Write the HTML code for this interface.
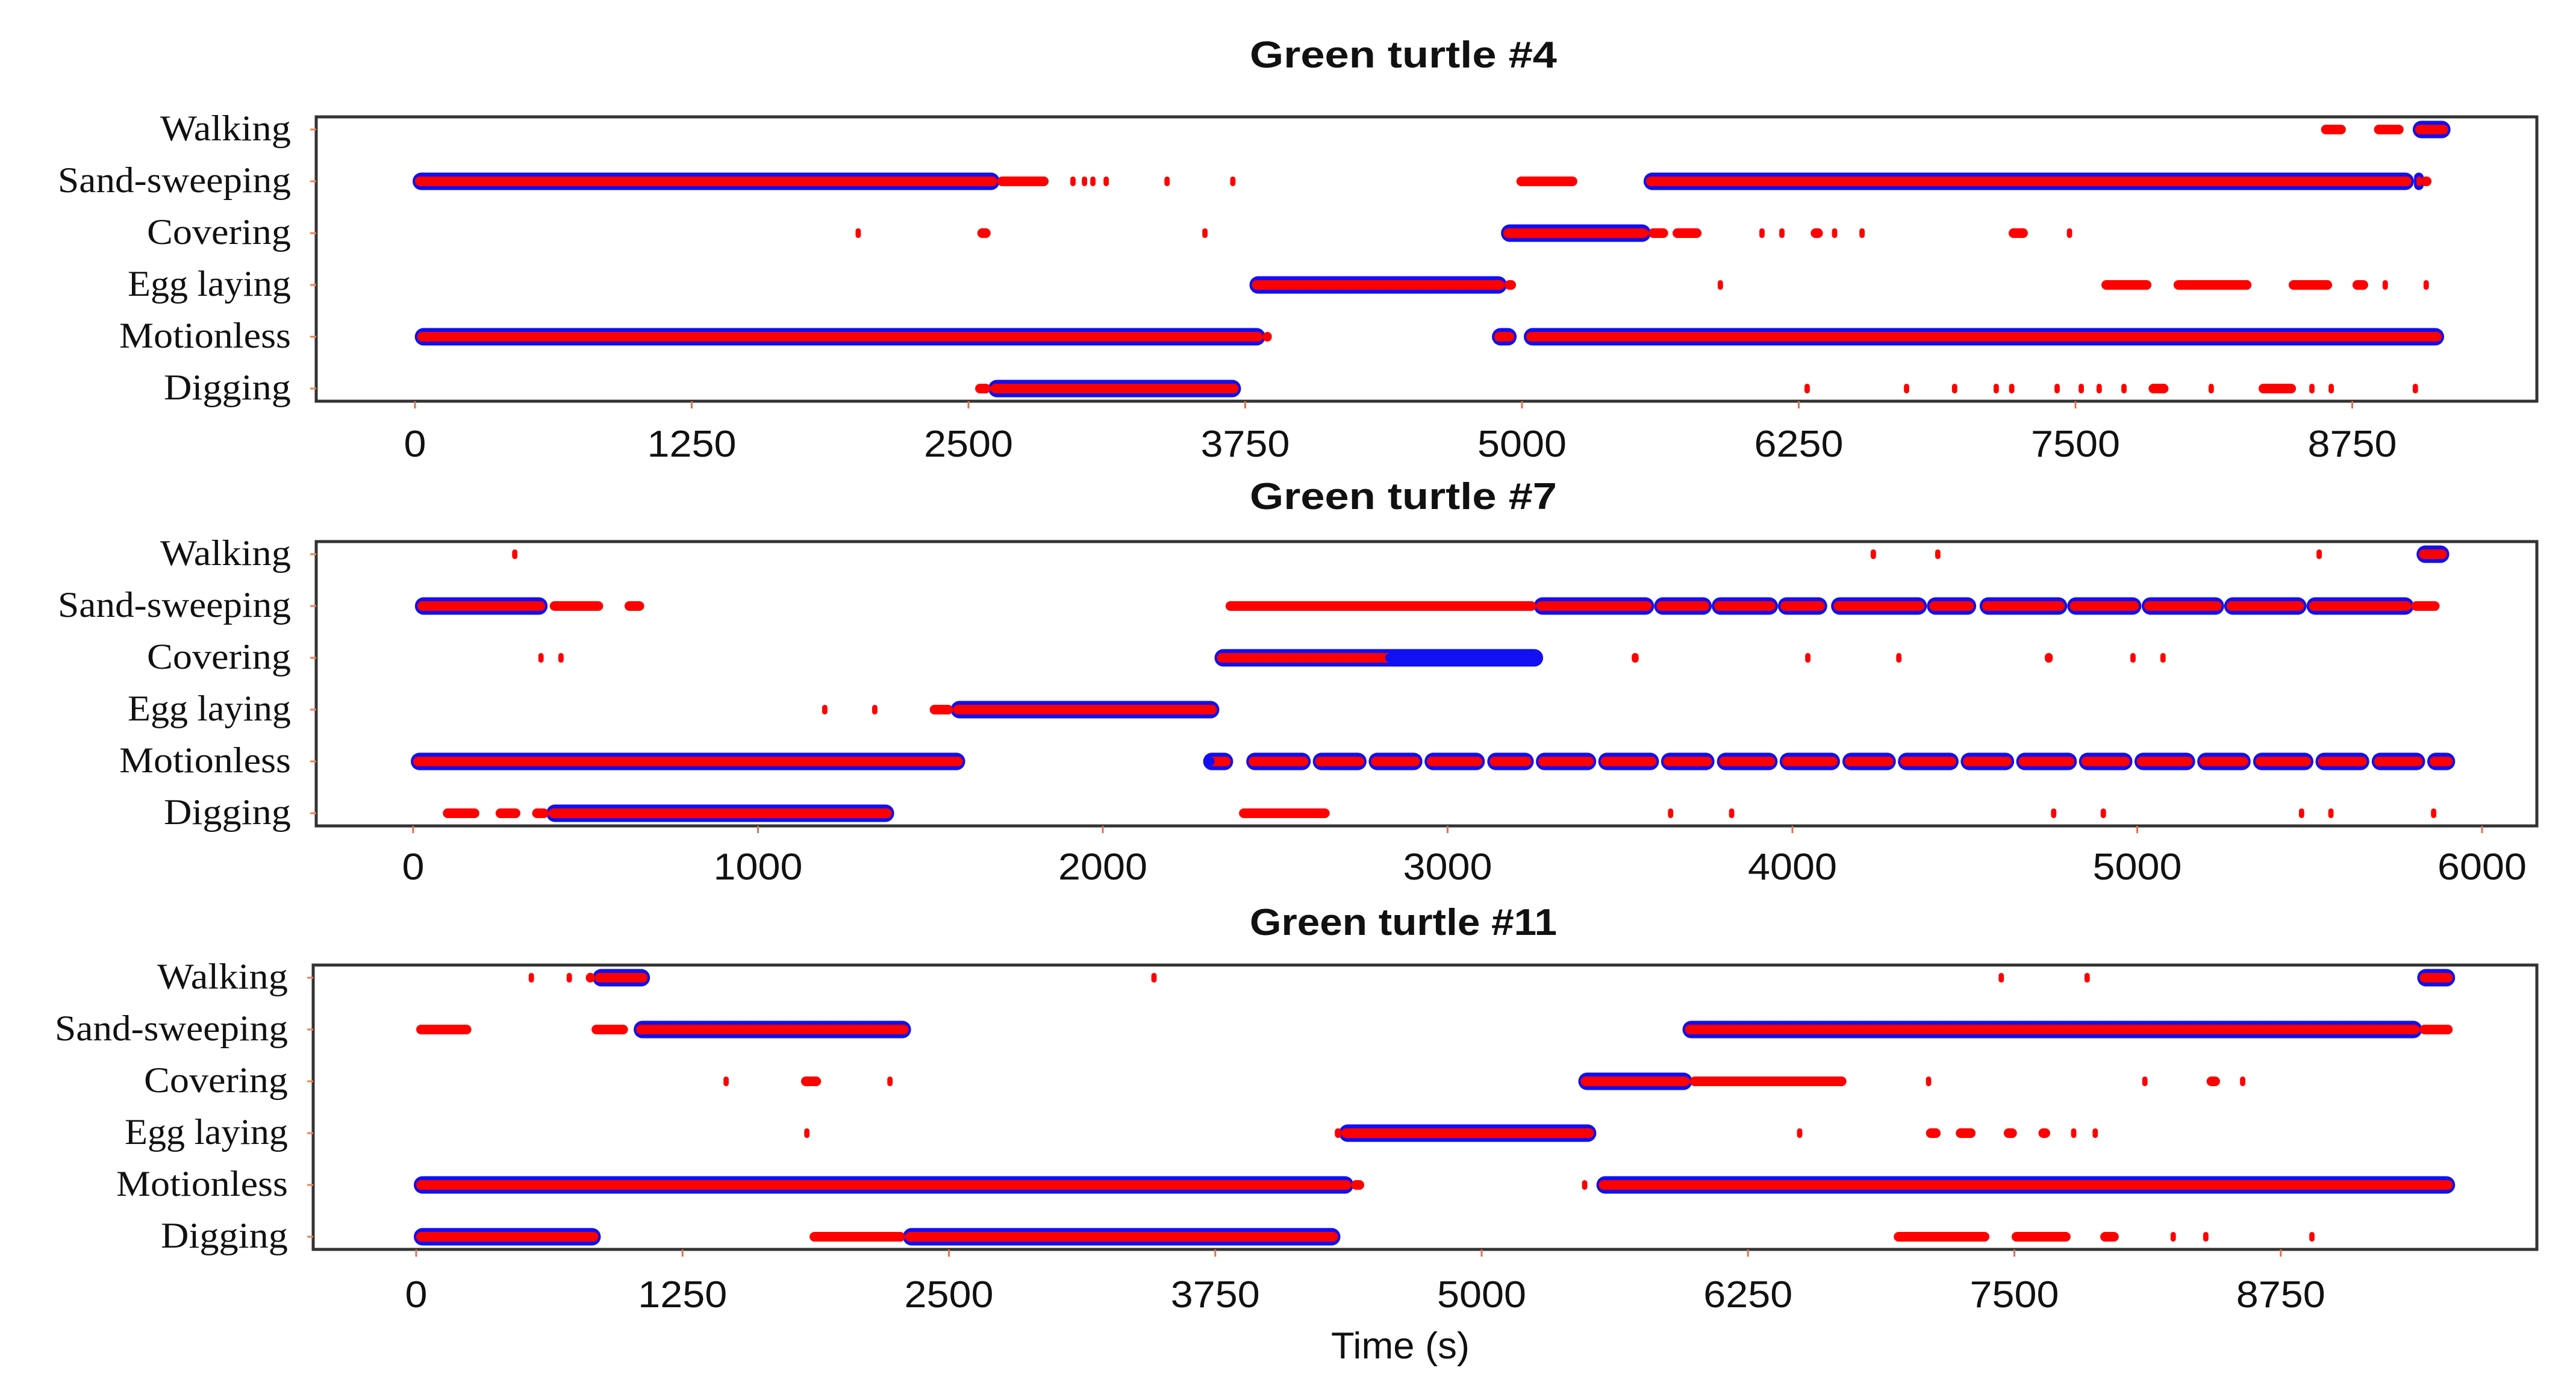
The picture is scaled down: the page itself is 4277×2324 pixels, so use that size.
<!DOCTYPE html>
<html><head><meta charset="utf-8"><style>
html,body{margin:0;padding:0;background:#fff;}
svg{display:block;}
.yl{font-family:"Liberation Serif",serif;font-size:60px;fill:#111;}
.tk{font-family:"Liberation Sans",sans-serif;font-size:62px;fill:#111;}
.ti{font-family:"Liberation Sans",sans-serif;font-size:62px;font-weight:bold;fill:#111;}
</style></head><body>
<svg id="chart" width="4277" height="2324" viewBox="0 0 4277 2324" xmlns="http://www.w3.org/2000/svg">
<rect x="0" y="0" width="4277" height="2324" fill="#fff"/>
</svg>
<script>
const categories = ["Walking","Sand-sweeping","Covering","Egg laying","Motionless","Digging"];
const titles = ["Green turtle #4","Green turtle #7","Green turtle #11"];
const ticks4 = [0,1250,2500,3750,5000,6250,7500,8750];
const ticks7 = [0,1000,2000,3000,4000,5000,6000];
const ticks11 = [0,1250,2500,3750,5000,6250,7500,8750];
// [rowIndex, start(s), end(s)]
const blue4 = [[0,9034,9183],[1,0,2630],[1,5560,9018],[1,9040,9060],[2,4916,5571],[3,3780,4921],[4,10,3830],[4,4875,4965],[4,5019,9154],[5,2600,3720]];
const red4 = [[0,8609,8721],[0,8848,8982],[1,2630,2862],[1,2960,2970],[1,3012,3022],[1,3050,3060],[1,3110,3120],[1,3385,3395],[1,3682,3692],[1,4975,5250],[1,9060,9108],
[2,1990,2000],[2,2540,2600],[2,3556,3566],[2,5571,5660],[2,5680,5811],[2,6072,6082],[2,6162,6172],[2,6304,6359],[2,6400,6410],[2,6524,6534],[2,7198,7285],[2,7461,7471],
[3,4921,4973],[3,5884,5900],[3,7617,7843],[3,7943,8295],[3,8463,8659],[3,8751,8822],[3,8887,8897],[3,9072,9082],
[4,3830,3870],[5,2530,2600],[5,6276,6286],[5,6725,6735],[5,6942,6960],[5,7130,7140],[5,7200,7210],[5,7405,7420],[5,7514,7524],[5,7595,7605],[5,7707,7717],[5,7830,7920],[5,8101,8111],[5,8327,8496],[5,8556,8566],[5,8643,8653],[5,9023,9040]];
const blue7 = [[0,5817,5898],[1,12,383],[1,3257,3592],[1,3606,3759],[1,3773,3951],[1,3965,4094],[1,4119,4383],[1,4397,4526],[1,4550,4790],[1,4804,5005],[1,5020,5245],[1,5259,5484],[1,5498,5795],
[2,2331,3270],[3,1566,2331],[4,0,1594],[4,2298,2371],
[4,2423,2596],[4,2616,2758],[4,2778,2920],[4,2940,3101],[4,3122,3243],[4,3263,3424],[4,3444,3606],[4,3626,3767],[4,3788,3950],[4,3970,4131],[4,4152,4293],[4,4313,4475],[4,4495,4636],[4,4656,4818],[4,4838,4979],[4,4999,5161],[4,5181,5322],[4,5343,5504],[4,5524,5666],[4,5687,5828],[4,5848,5915],
[5,393,1388]];
const blueOnly7 = [[2,2819,3270],[4,2298,2324]];
const red7 = [[0,287,297],[0,4227,4237],[0,4414,4424],[0,5520,5526],[1,396,551],[1,613,670],[1,2356,3257],[1,5795,5877],
[2,363,373],[2,421,431],[2,3534,3554],[2,4037,4045],[2,4301,4309],[2,4732,4755],[2,4980,4995],[2,5067,5075],
[3,1186,1193],[3,1331,1338],[3,1498,1566],[5,86,192],[5,239,311],[5,345,393],[5,2395,2658],[5,3639,3649],[5,3816,3826],[5,4750,4758],[5,4894,4902],[5,5469,5477],[5,5554,5562],[5,5852,5860]];
const blue11 = [[0,839,1086],[0,9402,9557],[1,1032,2311],[1,5954,9402],[2,5465,5977],[3,4342,5527],[4,0,4388],[4,5550,9557],[5,0,855],[5,2295,4326]];
const red11 = [[0,528,538],[0,706,714],[0,796,839],[0,3450,3460],[0,7426,7436],[0,7829,7839],[1,0,259],[1,823,994],[1,9402,9557],
[2,1442,1452],[2,1806,1900],[2,2211,2221],[2,5977,6712],[2,7085,7095],[2,8100,8110],[2,8402,8465],[2,8559,8569],
[3,1821,1827],[3,4311,4342],[3,6480,6486],[3,7085,7154],[3,7225,7318],[3,7450,7512],[3,7613,7668],[3,7766,7776],[3,7867,7877],
[4,4388,4449],[4,5471,5486],[5,1846,2295],[5,6934,7383],[5,7487,7764],[5,7903,7990],[5,8233,8243],[5,8386,8396],[5,8884,8892]];

const NS = "http://www.w3.org/2000/svg";
const svg = document.getElementById('chart');
function mk(tag, attrs){const e=document.createElementNS(NS,tag);for(const k in attrs)e.setAttribute(k,attrs[k]);svg.appendChild(e);return e;}
const panels = [
 {top:194,bottom:666,left:525,right:4212,x0:689,k:0.3676,titleY:112,tickY:758,ticks:ticks4,blue:blue4,blueOnly:[],red:red4,id:'turtle-4'},
 {top:899,bottom:1371,left:525,right:4212,x0:686,k:0.5725,titleY:845,tickY:1460,ticks:ticks7,blue:blue7,blueOnly:blueOnly7,red:red7,id:'turtle-7'},
 {top:1602,bottom:2074,left:520,right:4212,x0:691,k:0.3538,titleY:1552,tickY:2170,ticks:ticks11,blue:blue11,blueOnly:[],red:red11,id:'turtle-11'}
];
function seg(x1,x2,y,h,color,name){
  let w=Math.max(x2-x1,h*0.55);
  const r=mk('rect',{x:x1,y:y-h/2,width:w,height:h,rx:Math.min(h/2,w/2),fill:color});
  
  
}
panels.forEach((p,pi)=>{
  const xs=v=>p.x0+v*p.k;
  const ys=i=>p.top+21+i*86;
  const t=mk('text',{x:2330,y:p.titleY,'text-anchor':'middle',class:'ti',textLength:510,lengthAdjust:'spacingAndGlyphs'});
  t.textContent=titles[pi];
  
  
  const box=mk('rect',{x:p.left,y:p.top,width:p.right-p.left,height:p.bottom-p.top,fill:'none',stroke:'#333','stroke-width':5});
  
  
  const lw=[217,387,239,271,285,211];
  categories.forEach((c,i)=>{
    const l=mk('text',{x:p.left-42,y:ys(i)+18,'text-anchor':'end',class:'yl',textLength:lw[i],lengthAdjust:'spacingAndGlyphs'});
    l.textContent=c;
    
    
    const tm=mk('line',{x1:p.left-10,x2:p.left,y1:ys(i),y2:ys(i),stroke:'#f08050','stroke-width':3});
    
    
  });
  p.ticks.forEach(v=>{
    const tl=mk('line',{x1:xs(v),x2:xs(v),y1:p.bottom,y2:p.bottom+12,stroke:'#e07050','stroke-width':3});
    
    
    const s=String(v);
    const tx=mk('text',{x:xs(v),y:p.tickY,'text-anchor':'middle',class:'tk',textLength:s.length*37,lengthAdjust:'spacingAndGlyphs'});
    tx.textContent=s;
    
    
  });
  p.blue.forEach(d=>seg(xs(d[1])-4,xs(d[2])+4,ys(d[0]),29,'#1010f0','blue-segment'));
  p.blue.forEach(d=>seg(xs(d[1]),xs(d[2]),ys(d[0]),16,'#ff0000','red-core'));
  p.blueOnly.forEach(d=>seg(xs(d[1]),xs(d[2]),ys(d[0]),16,'#1010f0','blue-core'));
  p.red.forEach(d=>seg(xs(d[1]),xs(d[2]),ys(d[0]),16,'#ff0000','red-dot'));
});
const xt=mk('text',{x:2325,y:2255,'text-anchor':'middle',class:'tk',textLength:230,lengthAdjust:'spacingAndGlyphs'});
xt.textContent='Time (s)';


</script>
</body></html>
